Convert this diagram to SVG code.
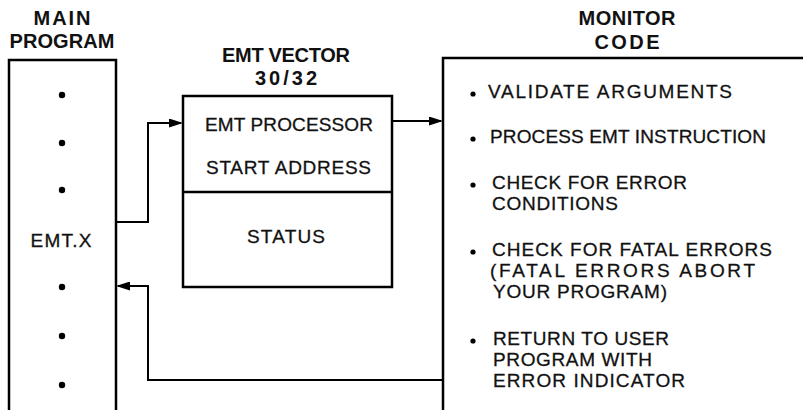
<svg xmlns="http://www.w3.org/2000/svg" width="803" height="410" viewBox="0 0 803 410">
  <style>
    .box { fill: none; stroke: #000; stroke-width: 2.5; }
    .wire { fill: none; stroke: #000; stroke-width: 2; }
    .head { font-family: "Liberation Sans", Arial, sans-serif; font-weight: bold; font-size: 20px; fill: #111; text-anchor: middle; }
    .lbl { font-family: "Liberation Sans", Arial, sans-serif; font-size: 19px; fill: #111; stroke: #111; stroke-width: 0.3; }
    .mid { text-anchor: middle; }
    .dot { fill: #000; }
  </style>
  <defs>
    <marker id="arrow" viewBox="0 0 14 9" refX="12" refY="4.5" markerWidth="14" markerHeight="9" markerUnits="userSpaceOnUse" orient="auto">
      <path d="M0,0 L14,4.5 L0,9 z" fill="#000"/>
    </marker>
  </defs>
  <rect width="803" height="410" fill="#fff"/>

  <!-- main program column -->
  <g id="main-program">
    <text class="head" x="62" y="25" textLength="57">MAIN</text>
    <text class="head" x="62" y="48" textLength="105">PROGRAM</text>
    <path class="box" d="M9,412 V60 H116 V412"/>
    <circle class="dot" cx="62" cy="95" r="3.2"/>
    <circle class="dot" cx="62" cy="143" r="3.2"/>
    <circle class="dot" cx="62" cy="190" r="3.2"/>
    <text class="lbl mid" x="61" y="247" textLength="61">EMT.X</text>
    <circle class="dot" cx="62" cy="287" r="3.2"/>
    <circle class="dot" cx="62" cy="336" r="3.2"/>
    <circle class="dot" cx="62" cy="385" r="3.2"/>
  </g>

  <!-- EMT vector table -->
  <g id="emt-vector">
    <text class="head" x="286" y="62" textLength="128">EMT VECTOR</text>
    <text class="head" x="286" y="85" textLength="62">30/32</text>
    <rect class="box" x="183" y="96" width="209" height="191"/>
    <line class="box" x1="183" y1="192" x2="392" y2="192"/>
    <text class="lbl" x="205" y="131" textLength="168">EMT PROCESSOR</text>
    <text class="lbl" x="206" y="174" textLength="165">START ADDRESS</text>
    <text class="lbl" x="247" y="243" textLength="78">STATUS</text>
  </g>

  <!-- monitor code column -->
  <g id="monitor-code">
    <text class="head" x="627" y="25" textLength="97">MONITOR</text>
    <text class="head" x="627" y="49" textLength="65">CODE</text>
    <path class="box" d="M443,412 V58 H805"/>
    <g class="dot">
      <circle cx="473" cy="94" r="2.6"/>
      <circle cx="473" cy="139" r="2.6"/>
      <circle cx="473" cy="185" r="2.6"/>
      <circle cx="473" cy="252" r="2.6"/>
      <circle cx="473" cy="341" r="2.6"/>
    </g>
    <text class="lbl" x="488" y="98" textLength="244">VALIDATE ARGUMENTS</text>
    <text class="lbl" x="490" y="143" textLength="276">PROCESS EMT INSTRUCTION</text>
    <text class="lbl" x="492" y="189" textLength="195">CHECK FOR ERROR</text>
    <text class="lbl" x="492" y="210" textLength="126">CONDITIONS</text>
    <text class="lbl" x="492" y="256" textLength="280">CHECK FOR FATAL ERRORS</text>
    <text class="lbl" x="490" y="277" textLength="265">(FATAL ERRORS ABORT</text>
    <text class="lbl" x="493" y="298" textLength="174">YOUR PROGRAM)</text>
    <text class="lbl" x="493" y="345" textLength="176">RETURN TO USER</text>
    <text class="lbl" x="493" y="366" textLength="159">PROGRAM WITH</text>
    <text class="lbl" x="493" y="387" textLength="192">ERROR INDICATOR</text>
  </g>

  <!-- connectors -->
  <g id="connectors">
    <path class="wire" d="M116,222 H148 V123 H181" marker-end="url(#arrow)"/>
    <path class="wire" d="M392,121 H441" marker-end="url(#arrow)"/>
    <path class="wire" d="M443,380 H148 V286 H118" marker-end="url(#arrow)"/>
  </g>
</svg>
